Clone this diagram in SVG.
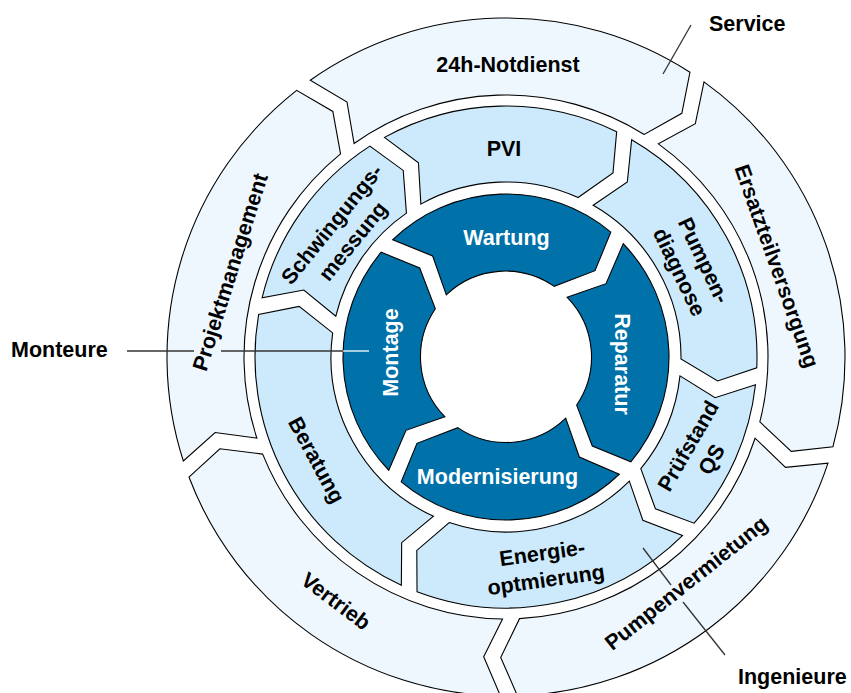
<svg xmlns="http://www.w3.org/2000/svg" width="851" height="693" viewBox="0 0 851 693">
<style>
  .o { fill: #eef7fe; stroke: #000; stroke-width: 1.1; stroke-linejoin: miter; }
  .m { fill: #cceafb; stroke: #000; stroke-width: 1.1; }
  .d { fill: #0071a9; stroke: #000; stroke-width: 1.1; }
  text { font-family: "Liberation Sans", Arial, sans-serif; font-weight: bold; font-size: 21.5px; }
  .b { fill: #000; }
  .w { fill: #fff; }
  .lead { stroke: #333; stroke-width: 1.3; fill: none; }
  .leadw { stroke: #fff; stroke-width: 1.3; fill: none; }
</style>
<rect width="851" height="693" fill="#fff"/>

<!-- Outer ring -->
<g id="n-24h-notdienst">
  <path class="o" d="M 310.28 80.20 A 339 339 0 0 1 689.95 72.25 L 681.83 113.31 L 644.22 134.43 A 262 262 0 0 0 354.08 143.55 L 347.00 102.01 Z"/>
  <text class="b" x="508" y="72" text-anchor="middle">24h-Notdienst</text>
</g>
<g id="n-ersatzteilversorgung">
  <path class="o" d="M 704.00 81.83 A 339 339 0 0 1 832.89 446.81 L 791.28 451.41 L 759.84 421.89 A 262 262 0 0 0 658.36 143.86 L 695.33 123.64 Z"/>
  <text class="b" transform="translate(777,266) rotate(70.5)" y="7.5" text-anchor="middle">Ersatzteilversorgung</text>
</g>
<g id="n-pumpenvermietung">
  <path class="o" d="M 827.97 463.09 A 339 339 0 0 1 517.46 695.81 L 500.70 657.45 L 519.52 618.65 A 262 262 0 0 0 755.09 438.22 L 785.49 467.39 Z"/>
  <text class="b" transform="translate(686,583) rotate(-38.5)" y="7.5" text-anchor="middle">Pumpenvermietung</text>
</g>
<g id="n-vertrieb">
  <path class="o" d="M 500.46 695.95 A 339 339 0 0 1 188.96 477.03 L 219.87 448.81 L 262.67 454.12 A 262 262 0 0 0 502.53 618.98 L 483.71 656.67 Z"/>
  <text class="b" transform="translate(336,601) rotate(37)" y="7.5" text-anchor="middle">Vertrieb</text>
</g>
<g id="n-projektmanagement">
  <path class="o" d="M 183.34 460.99 A 339 339 0 0 1 296.65 90.36 L 332.83 111.41 L 340.55 153.85 A 262 262 0 0 0 256.88 438.14 L 215.13 432.48 Z"/>
  <text class="b" transform="translate(230,272) rotate(-72.5)" y="7.5" text-anchor="middle">Projektmanagement</text>
</g>

<!-- Middle ring -->
<g id="n-pvi">
  <path class="m" d="M 384.47 137.39 A 251 251 0 0 1 616.66 131.71 L 613.00 172.83 L 578.06 197.53 A 175 175 0 0 0 420.85 204.11 L 418.44 162.83 Z"/>
  <text class="b" x="504" y="155.5" text-anchor="middle">PVI</text>
</g>
<g id="n-pumpendiagnose">
  <path class="m" d="M 631.65 139.72 A 251 251 0 0 1 756.77 367.77 L 717.65 380.95 L 680.99 358.88 A 175 175 0 0 0 593.19 205.27 L 627.34 181.94 Z"/>
  <text class="b" transform="translate(692,266) rotate(64.5)" text-anchor="middle"><tspan x="0" y="-5.8">Pumpen-</tspan><tspan x="0" y="21.2">diagnose</tspan></text>
</g>
<g id="n-pruefstand">
  <path class="m" d="M 755.46 384.72 A 251 251 0 0 1 694.10 523.19 L 655.41 508.81 L 640.81 468.59 A 175 175 0 0 0 679.98 375.85 L 715.07 397.74 Z"/>
  <text class="b" transform="translate(699.5,452.5) rotate(-60)" text-anchor="middle"><tspan x="0" y="-5.8">Prüfstand</tspan><tspan x="0" y="21.2">QS</tspan></text>
</g>
<g id="n-energieoptimierung">
  <path class="m" d="M 682.43 535.53 A 251 251 0 0 1 417.03 591.70 L 416.80 550.43 L 449.27 522.55 A 175 175 0 0 0 629.35 481.14 L 642.83 520.24 Z"/>
  <text class="b" transform="translate(544,566) rotate(-8)" text-anchor="middle"><tspan x="0" y="-5.8">Energie-</tspan><tspan x="0" y="21.2">optmierung</tspan></text>
</g>
<g id="n-beratung">
  <path class="m" d="M 401.35 585.15 A 251 251 0 0 1 258.63 314.45 L 299.11 306.35 L 332.67 332.90 A 175 175 0 0 0 433.48 516.26 L 401.67 542.70 Z"/>
  <text class="b" transform="translate(316.7,460) rotate(61.5)" y="7.5" text-anchor="middle">Beratung</text>
</g>
<g id="n-schwingungsmessung">
  <path class="m" d="M 262.08 297.81 A 251 251 0 0 1 369.88 146.11 L 403.24 170.42 L 406.42 213.10 A 175 175 0 0 0 335.82 316.20 L 303.80 290.02 Z"/>
  <text class="b" transform="translate(342,232.5) rotate(-51)" text-anchor="middle"><tspan x="0" y="-5.8">Schwingungs-</tspan><tspan x="0" y="21.2">messung</tspan></text>
</g>

<!-- Inner ring -->
<g id="n-wartung">
  <path class="d" d="M 392.75 239.77 A 163 163 0 0 1 610.80 232.16 L 595.03 270.69 L 554.19 286.37 A 85.5 85.5 0 0 0 446.28 294.81 L 432.67 256.01 Z"/>
  <text class="w" x="506.5" y="245" text-anchor="middle">Wartung</text>
</g>
<g id="n-reparatur">
  <path class="d" d="M 623.23 243.75 A 163 163 0 0 1 630.84 461.80 L 592.31 446.03 L 576.63 405.19 A 85.5 85.5 0 0 0 567.19 297.28 L 605.99 283.67 Z"/>
  <text class="w" transform="translate(622.5,364) rotate(90)" y="7.5" text-anchor="middle">Reparatur</text>
</g>
<g id="n-modernisierung">
  <path class="d" d="M 619.25 474.23 A 163 163 0 0 1 401.20 481.84 L 416.97 443.31 L 457.81 427.63 A 85.5 85.5 0 0 0 565.72 418.19 L 579.33 456.99 Z"/>
  <text class="w" x="497.5" y="484" text-anchor="middle">Modernisierung</text>
</g>
<g id="n-montage">
  <path class="d" d="M 388.77 470.25 A 163 163 0 0 1 381.16 252.20 L 419.69 267.97 L 435.37 308.81 A 85.5 85.5 0 0 0 444.81 416.72 L 406.01 430.33 Z"/>
  <text class="w" transform="translate(390,352.5) rotate(-90)" y="7.5" text-anchor="middle">Montage</text>
</g>

<!-- Outside labels -->
<g id="n-service">
  <text class="b" x="709" y="31">Service</text>
</g>
<g id="n-monteure">
  <text class="b" x="11" y="357">Monteure</text>
</g>
<g id="n-ingenieure">
  <text class="b" x="738" y="684">Ingenieure</text>
</g>

<!-- Connectors -->
<g id="connectors">
  <line class="lead" x1="663" y1="74" x2="691" y2="25"/>
  <line class="lead" x1="127" y1="351" x2="194" y2="351"/>
  <line class="lead" x1="221" y1="351" x2="343" y2="351"/>
  <line class="leadw" x1="343" y1="351" x2="369" y2="351"/>
  <line class="lead" x1="643" y1="548" x2="671" y2="585"/>
  <line class="lead" x1="683" y1="602" x2="725" y2="655"/>
</g>
</svg>
